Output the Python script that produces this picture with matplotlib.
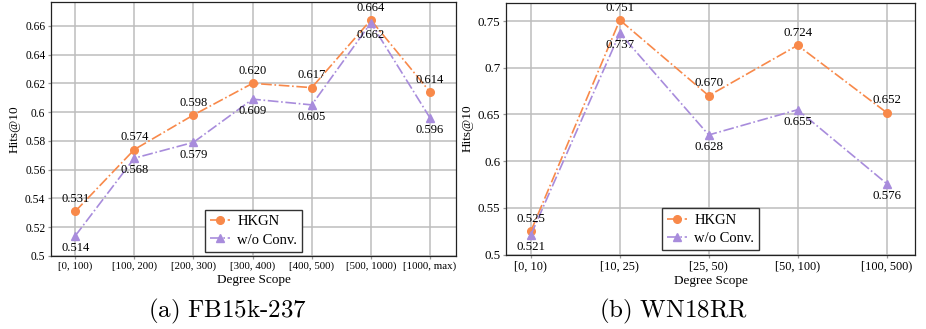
import matplotlib
matplotlib.use("Agg")
import matplotlib.pyplot as plt

# FB15k-237
fb_bins = ["[0, 100)", "[100, 200)", "[200, 300)", "[300, 400)",
           "[400, 500)", "[500, 1000)", "[1000, max)"]
fb_hkgn = [0.531, 0.574, 0.598, 0.620, 0.617, 0.664, 0.614]
fb_noconv = [0.514, 0.568, 0.579, 0.609, 0.605, 0.662, 0.596]
fb_yticks = [0.5, 0.52, 0.54, 0.56, 0.58, 0.6, 0.62, 0.64, 0.66]
fb_yticklabels = ["0.5", "0.52", "0.54", "0.56", "0.58", "0.6", "0.62", "0.64", "0.66"]

# WN18RR
wn_bins = ["[0, 10)", "[10, 25)", "[25, 50)", "[50, 100)", "[100, 500)"]
wn_hkgn = [0.525, 0.751, 0.670, 0.724, 0.652]
wn_noconv = [0.521, 0.737, 0.628, 0.655, 0.576]
wn_yticks = [0.5, 0.55, 0.6, 0.65, 0.7, 0.75]
wn_yticklabels = ["0.5", "0.55", "0.6", "0.65", "0.7", "0.75"]

ORANGE = "#F8894A"
PURPLE = "#A88CDC"
SERIF = ["Liberation Serif", "DejaVu Serif"]

plt.rcParams["font.family"] = SERIF
plt.rcParams["mathtext.fontset"] = "cm"

fig = plt.figure(figsize=(9.26, 3.29), dpi=100)
W, H = 926, 329


def make_axes(l, r, b, t):
    return fig.add_axes([l / W, 1 - b / H, (r - l) / W, (b - t) / H])


def panel(ax, bins, hkgn, noconv, yticks, yticklabels, ylim, xlim,
          tick_fs, ann_fs):
    x = list(range(len(bins)))
    ax.set_axisbelow(True)
    ax.grid(True, color="#bdbdbd", linewidth=1.1)
    ax.plot(x, hkgn, linestyle="-.", color=ORANGE, marker="o",
            markersize=5.5, linewidth=1.2, label="HKGN", zorder=3)
    ax.plot(x, noconv, linestyle="-.", color=PURPLE, marker="^",
            markersize=5.5, linewidth=1.2, label="w/o Conv.", zorder=3)
    for xi, v in zip(x, hkgn):
        ax.annotate(f"{v:.3f}", (xi, v), xytext=(0, 4.5),
                    textcoords="offset points", ha="center", va="bottom",
                    fontsize=ann_fs, zorder=4)
    for xi, v in zip(x, noconv):
        ax.annotate(f"{v:.3f}", (xi, v), xytext=(0, -4.5),
                    textcoords="offset points", ha="center", va="top",
                    fontsize=ann_fs, zorder=4)
    ax.set_xticks(x)
    ax.set_xticklabels(bins, fontsize=tick_fs)
    ax.set_yticks(yticks)
    ax.set_yticklabels(yticklabels, fontsize=tick_fs + 0.5)
    ax.set_xlim(*xlim)
    ax.set_ylim(*ylim)
    ax.tick_params(direction="out", length=2.5, width=0.9, pad=1.5,
                   color="#999999")
    for s in ax.spines.values():
        s.set_linewidth(0.9)
        s.set_color("#222222")
    ax.set_xlabel("Degree Scope", fontsize=9.5, labelpad=2)
    ax.set_ylabel("Hits@10", fontsize=9.5, labelpad=3)
    leg = ax.legend(loc="lower center", fontsize=10.5, frameon=True,
                    fancybox=False, edgecolor="#333333", borderaxespad=0.3,
                    handlelength=1.4, handletextpad=0.5, borderpad=0.35,
                    labelspacing=0.35)
    leg.get_frame().set_linewidth(1.0)
    leg.get_frame().set_alpha(1.0)


ax1 = make_axes(51, 456, 256, 2)
panel(ax1, fb_bins, fb_hkgn, fb_noconv, fb_yticks, fb_yticklabels,
      (0.5, 0.6765), (-0.41, 6.44), 7.8, 9)

ax2 = make_axes(506, 915, 254.5, 2.7)
panel(ax2, wn_bins, wn_hkgn, wn_noconv, wn_yticks, wn_yticklabels,
      (0.5, 0.7696), (-0.28, 4.32), 8.8, 9.3)

fig.text(227 / W, 1 - 311 / H, r"$\mathrm{(a)\ FB15k\text{-}237}$",
         ha="center", va="center", fontsize=18)
fig.text(673 / W, 1 - 311 / H, r"$\mathrm{(b)\ WN18RR}$",
         ha="center", va="center", fontsize=18)

fig.savefig("out.png", dpi=100)
